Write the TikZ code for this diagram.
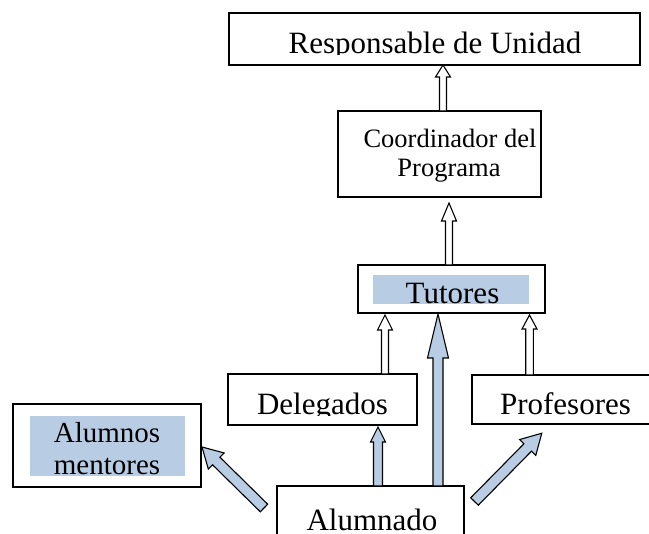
\documentclass[tikz,border=0pt]{standalone}
\usepackage{fontspec}
\setmainfont{Liberation Serif}
\usetikzlibrary{calc}
\definecolor{lblue}{RGB}{184,204,228}
% #1 style, #2 shaft half width, #3 head half width, #4 head length, #5 tail, #6 tip
\newcommand\blockarr[6]{%
  \draw[#1] let \p1=(#5), \p2=($(#6)-(#5)$), \n1={veclen(\x2,\y2)}, \n2={atan2(\y2,\x2)} in
   [shift={(\p1)}, rotate=\n2] (0pt,-#2pt) -- (\n1-#4pt,-#2pt) -- (\n1-#4pt,-#3pt) -- (\n1,0pt)
   -- (\n1-#4pt,#3pt) -- (\n1-#4pt,#2pt) -- (0pt,#2pt) -- cycle;}
\tikzset{
  box/.style={draw=black, line width=1.3pt, inner sep=0pt, fill=white},
  hl/.style={fill=lblue, draw=none, inner sep=0pt},
  big/.style={font=\fontsize{31}{34}\selectfont, inner sep=0pt, anchor=base},
  mid/.style={font=\fontsize{26.5}{30}\selectfont, inner sep=0pt, anchor=base},
  warrow/.style={draw=black, line width=1.1pt, fill=white, line join=miter},
  barrow/.style={draw=black, line width=1.1pt, fill=lblue, line join=miter},
}
\begin{document}
\begin{tikzpicture}[x=1pt,y=-1pt]
\clip (0,0) rectangle (649,534);
\fill[white] (0,0) rectangle (649,534);
% boxes
\node[box, minimum width=411pt, minimum height=52pt] (resp) at (434.5,39) {};
\node[box, minimum width=203pt, minimum height=86pt] (coord) at (439.5,154) {};
\node[box, minimum width=187pt, minimum height=48pt] (tut) at (451.5,289) {};
\node[box, minimum width=189pt, minimum height=51pt] (del) at (322.5,399.5) {};
\node[box, minimum width=188pt, minimum height=49pt] (prof) at (566,399.5) {};
\node[box, minimum width=188pt, minimum height=83pt] (alm) at (107,445.5) {};
\node[box, minimum width=187pt, minimum height=74pt] (alu) at (370.5,523) {};
% highlight fills
\node[hl, minimum width=156pt, minimum height=29pt] (tutfill) at (451,289.5) {};
\node[hl, minimum width=155pt, minimum height=60pt] (almfill) at (107.5,446) {};
% texts
\begin{scope}
  \clip (229,13) rectangle (640,55);
  \node[big] (tresp) at (435,54) {Responsable de Unidad};
\end{scope}
\node[mid] (tcoord1) at (450,148) {Coordinador del};
\node[mid] (tcoord2) at (449,177) {Programa};
\begin{scope}
  \clip (373,275) rectangle (529,304);
  \node[big] (ttut) at (452.5,303.5) {Tutores};
\end{scope}
\begin{scope}
  \clip (229,374) rectangle (417,416);
  \node[big] (tdel) at (322.5,415) {Delegados};
\end{scope}
\begin{scope}
  \clip (472,375) rectangle (649,416);
  \node[big] (tprof) at (565.5,415) {Profesores};
\end{scope}
\node[font=\fontsize{29}{32}\selectfont, inner sep=0pt, anchor=base] (talm1) at (107,443) {Alumnos};
\begin{scope}
  \clip (30,416) rectangle (185,476);
  \node[font=\fontsize{29}{32}\selectfont, inner sep=0pt, anchor=base] (talm2) at (107,475) {mentores};
\end{scope}
\node[big] (talu) at (372,531) {Alumnado};
% arrow end points
\coordinate (a1t) at (443,111); \coordinate (a1h) at (443,65);
\coordinate (a2t) at (449,265); \coordinate (a2h) at (449,203);
\coordinate (a3t) at (385,374); \coordinate (a3h) at (385,315);
\coordinate (a4t) at (529.5,375); \coordinate (a4h) at (529.5,315);
\coordinate (a5t) at (438,486); \coordinate (a5h) at (438,314);
\coordinate (a6t) at (378,486); \coordinate (a6h) at (378,427);
\coordinate (a7t) at (264,508); \coordinate (a7h) at (202,447);
\coordinate (a8t) at (474.5,501.5); \coordinate (a8h) at (542,433);
% arrows
\blockarr{warrow}{3.5}{7.5}{12}{a1t}{a1h}
\blockarr{warrow}{3.5}{7.5}{18}{a2t}{a2h}
\blockarr{warrow}{3.5}{7.5}{15}{a3t}{a3h}
\blockarr{warrow}{3.8}{7.5}{14}{a4t}{a4h}
\blockarr{barrow}{5}{10.5}{44}{a5t}{a5h}
\blockarr{barrow}{4.5}{7.5}{15}{a6t}{a6h}
\blockarr{barrow}{5.3}{11.3}{20}{a7t}{a7h}
\blockarr{barrow}{5.3}{11.3}{20}{a8t}{a8h}
\end{tikzpicture}
\end{document}
